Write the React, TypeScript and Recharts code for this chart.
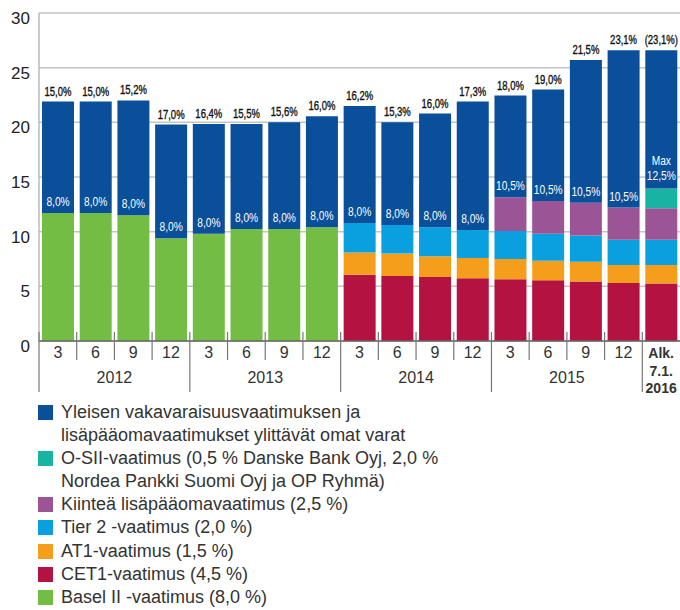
import { Bar, BarChart, CartesianGrid, LabelList, XAxis, YAxis } from "recharts";

const MONTHS = ["3", "6", "9", "12", "3", "6", "9", "12", "3", "6", "9", "12", "3", "6", "9", "12", "Alk. 7.1. 2016"];
const YEARS = ["2012", "2012", "2012", "2012", "2013", "2013", "2013", "2013", "2014", "2014", "2014", "2014", "2015", "2015", "2015", "2015", "2016"];

// stacked segments, bottom to top
const basel = [11.7, 11.7, 11.5, 9.4, 9.8, 10.25, 10.25, 10.4, 0, 0, 0, 0, 0, 0, 0, 0, 0];
const cet1 = [0, 0, 0, 0, 0, 0, 0, 0, 6.05, 5.95, 5.85, 5.75, 5.65, 5.55, 5.45, 5.3, 5.25];
const at1 = [0, 0, 0, 0, 0, 0, 0, 0, 2.05, 2.05, 1.9, 1.85, 1.85, 1.8, 1.8, 1.65, 1.7];
const tier2 = [0, 0, 0, 0, 0, 0, 0, 0, 2.7, 2.6, 2.65, 2.55, 2.55, 2.45, 2.4, 2.3, 2.3];
const fixedBuffer = [0, 0, 0, 0, 0, 0, 0, 0, 0, 0, 0, 0, 3.1, 3.0, 3.0, 2.95, 2.9];
const osii = [0, 0, 0, 0, 0, 0, 0, 0, 0, 0, 0, 0, 0, 0, 0, 0, 1.8];
const excess = [10.2, 10.2, 10.5, 10.4, 10.05, 9.6, 9.75, 10.15, 10.7, 9.4, 10.4, 11.75, 9.3, 10.2, 13.05, 14.4, 12.65];

const TOP_LABELS = ["15,0%", "15,0%", "15,2%", "17,0%", "16,4%", "15,5%", "15,6%", "16,0%", "16,2%", "15,3%", "16,0%", "17,3%", "18,0%", "19,0%", "21,5%", "23,1%", "(23,1%)"];
const INNER_LABELS = ["8,0%", "8,0%", "8,0%", "8,0%", "8,0%", "8,0%", "8,0%", "8,0%", "8,0%", "8,0%", "8,0%", "8,0%", "10,5%", "10,5%", "10,5%", "10,5%", "Max 12,5%"];
const Y_TICKS = [0, 5, 10, 15, 20, 25, 30];

const COLORS = {
  excess: "#0a4f9a",
  osii: "#17b3a3",
  fixed: "#9b5495",
  tier2: "#0aa0e0",
  at1: "#f59e1c",
  cet1: "#b41240",
  basel: "#74bd44",
};

const LEGEND = [
  { color: COLORS.excess, lines: ["Yleisen vakavaraisuusvaatimuksen ja", "lisäpääomavaatimukset ylittävät omat varat"] },
  { color: COLORS.osii, lines: ["O-SII-vaatimus (0,5 % Danske Bank Oyj, 2,0 %", "Nordea Pankki Suomi Oyj ja OP Ryhmä)"] },
  { color: COLORS.fixed, lines: ["Kiinteä lisäpääomavaatimus (2,5 %)"] },
  { color: COLORS.tier2, lines: ["Tier 2 -vaatimus (2,0 %)"] },
  { color: COLORS.at1, lines: ["AT1-vaatimus (1,5 %)"] },
  { color: COLORS.cet1, lines: ["CET1-vaatimus (4,5 %)"] },
  { color: COLORS.basel, lines: ["Basel II -vaatimus (8,0 %)"] },
];

const rows = MONTHS.map((m, i) => ({
  key: `${YEARS[i]}-${i}`,
  basel: basel[i],
  cet1: cet1[i],
  at1: at1[i],
  tier2: tier2[i],
  fixed: fixedBuffer[i],
  osii: osii[i],
  excess: excess[i],
}));

const SANS = "'Liberation Sans', Arial, sans-serif";

function MonthTick(props: any) {
  const { x, y, payload, index } = props;
  const half = payload.offset ?? 0;
  const month = MONTHS[index];
  const yearStart = month === "3" || index === MONTHS.length - 1;
  const sepX = x - half;
  return (
    <g>
      <line x1={sepX} x2={sepX} y1={y - 9} y2={yearStart ? y + 51 : y + 19} stroke="#777" strokeWidth={1.2} />
      {index === MONTHS.length - 1 ? (
        <text x={x} y={y} textAnchor="middle" fontFamily={SANS} fontSize={14} fontWeight={700} fill="#333">
          {month.split(" ").map((part, k) => (
            <tspan key={k} x={x} dy={k === 0 ? 17 : 17.5}>
              {part}
            </tspan>
          ))}
        </text>
      ) : (
        <text x={x} y={y + 17} textAnchor="middle" fontFamily={SANS} fontSize={16} fill="#333">
          {month}
        </text>
      )}
      {month === "6" && (
        <text x={x + half} y={y + 42} textAnchor="middle" fontFamily={SANS} fontSize={16} fill="#333">
          {YEARS[index]}
        </text>
      )}
    </g>
  );
}

// narrow text: the original uses a condensed face
function Squeezed({ x, y, sx, size, children, fill, bold }: any) {
  return (
    <text
      transform={`translate(${x} ${y}) scale(${sx} 1)`}
      textAnchor="middle"
      fontFamily={SANS}
      fontSize={size}
      fill={fill}
      stroke={bold ? fill : "none"}
      strokeWidth={bold ? 0.35 : 0}
    >
      {children}
    </text>
  );
}

function TopLabel(props: any) {
  const { x, y, width, index } = props;
  return (
    <Squeezed x={x + width / 2} y={y - 6} sx={0.76} size={12.5} fill="#111" bold>
      {TOP_LABELS[index]}
    </Squeezed>
  );
}

function InnerLabel(props: any) {
  const { x, y, width, height, index } = props;
  const bottom = y + height;
  const cx = x + width / 2;
  const label = INNER_LABELS[index];
  if (label.startsWith("Max")) {
    return (
      <g>
        <Squeezed x={cx} y={bottom - 23} sx={0.85} size={12} fill="#fff">Max</Squeezed>
        <Squeezed x={cx} y={bottom - 8} sx={0.85} size={12} fill="#fff">{label.slice(4)}</Squeezed>
      </g>
    );
  }
  return (
    <Squeezed x={cx} y={bottom - 7} sx={0.85} size={12} fill="#fff">
      {label}
    </Squeezed>
  );
}

export default function App() {
  return (
    <div style={{ width: 680, height: 610, position: "relative", background: "#fff", overflow: "hidden" }}>
      <style>{"body{margin:0}"}</style>
      <BarChart width={680} height={400} data={rows} margin={{ top: 13, right: 0, bottom: 0, left: 0 }} barCategoryGap={3}>
        <CartesianGrid vertical={false} stroke="#c4c4c4" strokeWidth={1.5} />
        <YAxis
          width={39}
          domain={[0, 30]}
          ticks={Y_TICKS}
          tickLine={false}
          tickSize={0}
          tickMargin={9}
          axisLine={{ stroke: "#aaa", strokeWidth: 1.2 }}
          tick={{ fontSize: 17, fill: "#222", fontFamily: SANS, dy: 5 }}
        />
        <XAxis
          dataKey="key"
          height={59}
          interval={0}
          tickLine={false}
          tickSize={0}
          tickMargin={0}
          axisLine={{ stroke: "#666", strokeWidth: 1.5 }}
          tick={<MonthTick />}
        />
        <Bar dataKey="basel" stackId="a" fill={COLORS.basel} isAnimationActive={false} />
        <Bar dataKey="cet1" stackId="a" fill={COLORS.cet1} isAnimationActive={false} />
        <Bar dataKey="at1" stackId="a" fill={COLORS.at1} isAnimationActive={false} />
        <Bar dataKey="tier2" stackId="a" fill={COLORS.tier2} isAnimationActive={false} />
        <Bar dataKey="fixed" stackId="a" fill={COLORS.fixed} isAnimationActive={false} />
        <Bar dataKey="osii" stackId="a" fill={COLORS.osii} isAnimationActive={false} />
        <Bar dataKey="excess" stackId="a" fill={COLORS.excess} isAnimationActive={false}>
          <LabelList dataKey="excess" content={<TopLabel />} />
          <LabelList dataKey="excess" content={<InnerLabel />} />
        </Bar>
      </BarChart>
      <div style={{ position: "absolute", left: 38, top: 401, fontFamily: SANS, fontSize: 18, lineHeight: "23.1px", color: "#333" }}>
        {LEGEND.map((item, i) => (
          <div key={i} style={{ display: "flex", alignItems: "flex-start" }}>
            <span style={{ width: 15, height: 15, background: item.color, marginTop: 4, marginRight: 8, flex: "none" }} />
            <span>
              {item.lines.map((ln, k) => (
                <div key={k}>{ln}</div>
              ))}
            </span>
          </div>
        ))}
      </div>
    </div>
  );
}
